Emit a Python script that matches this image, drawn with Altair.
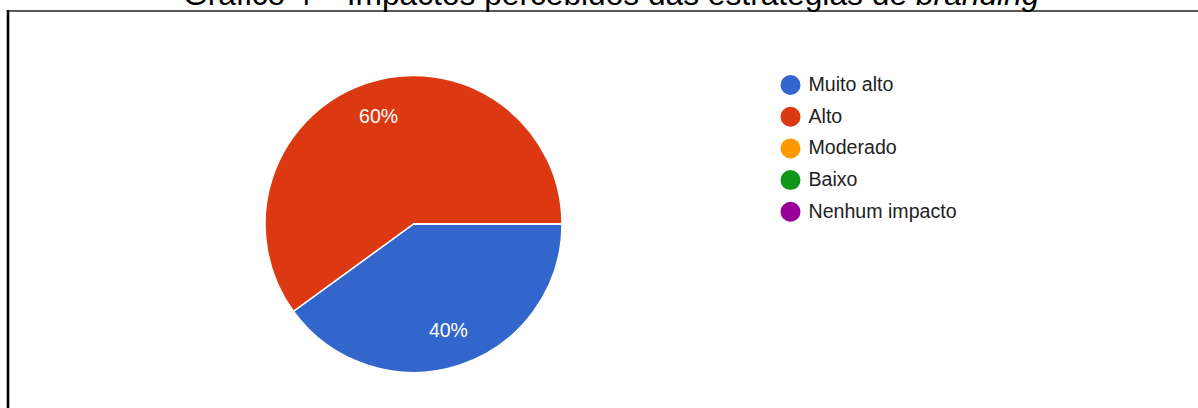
import math
import altair as alt
import pandas as pd

# ---- data ----
categories = ["Muito alto", "Alto", "Moderado", "Baixo", "Nenhum impacto"]
percentages = [40, 60, 0, 0, 0]
colors = ["#3366cc", "#dc3912", "#ff9900", "#109618", "#990099"]
title_regular = "Gráfico 4 – Impactos percebidos das estratégias de"
title_italic = "branding"

df = pd.DataFrame({
    "categoria": categories,
    "pct": percentages,
    "ordem": list(range(len(categories))),
})

FONT = "Liberation Sans, Arial, Helvetica, sans-serif"
CX, CY, R = 413.5, 224, 148.5

color_scale = alt.Scale(domain=categories, range=colors)
theta_scale = alt.Scale(range=[math.pi / 2, math.pi / 2 + 2 * math.pi])

base = alt.Chart(df).transform_filter("datum.pct > 0").encode(
    theta=alt.Theta("pct:Q", stack=True, scale=theta_scale),
    order=alt.Order("ordem:Q", sort="ascending"),
    x=alt.value(CX),
    y=alt.value(CY),
)

pie = alt.Chart(df).mark_arc(radius=R, stroke="white", strokeWidth=1.5).encode(
    theta=alt.Theta("pct:Q", stack=True, scale=theta_scale),
    order=alt.Order("ordem:Q", sort="ascending"),
    x=alt.value(CX),
    y=alt.value(CY),
    color=alt.Color(
        "categoria:N",
        scale=color_scale,
        sort=categories,
        legend=alt.Legend(
            orient="none",
            legendX=780.5,
            legendY=75,
            title=None,
            symbolType="circle",
            symbolSize=400,
            symbolStrokeWidth=0,
            symbolOpacity=1,
            labelFont=FONT,
            labelFontSize=19.6,
            labelColor="#222222",
            labelOffset=8,
            rowPadding=11.7,
            padding=0,
        ),
    ),
)

labels = base.transform_calculate(
    rotulo="datum.pct + '%'"
).mark_text(
    radius=113, font=FONT, fontSize=19.5, color="white", baseline="middle", align="center"
).encode(text="rotulo:N")

title1 = alt.Chart(pd.DataFrame({"t": [title_regular]})).mark_text(
    font=FONT, fontSize=31.7, color="black", align="left", baseline="alphabetic"
).encode(text="t:N", x=alt.value(183), y=alt.value(5))

title2 = alt.Chart(pd.DataFrame({"t": [title_italic]})).mark_text(
    font=FONT, fontSize=31.7, fontStyle="italic", color="black", align="left", baseline="alphabetic"
).encode(text="t:N", x=alt.value(916), y=alt.value(5))

frame_top = alt.Chart(pd.DataFrame({"a": [0]})).mark_rule(color="#222222", strokeWidth=1.6).encode(
    x=alt.value(7), x2=alt.value(1198), y=alt.value(11)
)
frame_left = alt.Chart(pd.DataFrame({"a": [0]})).mark_rule(color="black", strokeWidth=2.6).encode(
    x=alt.value(8), y=alt.value(10), y2=alt.value(408)
)

chart = alt.layer(frame_top, frame_left, title1, title2, pie, labels).properties(
    width=1198,
    height=408,
    padding=0,
    autosize=alt.AutoSizeParams(type="none"),
    background="white",
).configure_view(stroke=None)

chart.save("out.html", embed_options={"renderer": "svg", "actions": False})
